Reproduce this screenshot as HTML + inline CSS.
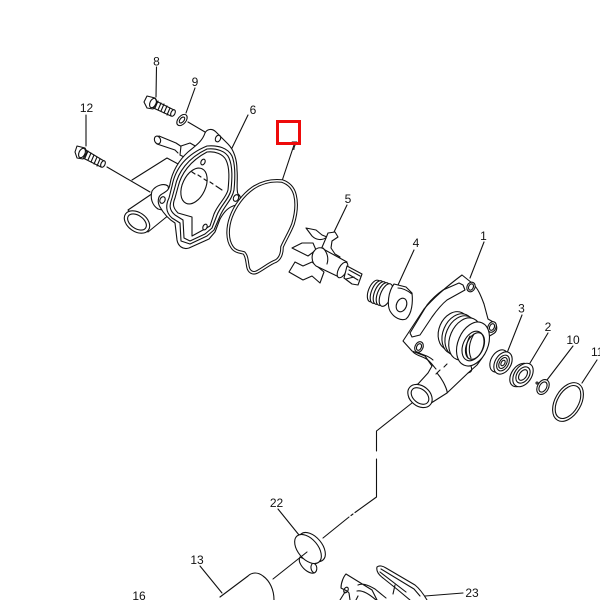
<!DOCTYPE html>
<html><head><meta charset="utf-8"><style>
html,body{margin:0;padding:0;background:#fff;width:600px;height:600px;overflow:hidden}
svg{display:block}
text{font-family:"Liberation Sans",sans-serif;font-size:12px;fill:#111}
path,line,ellipse,circle,polyline{fill:none;stroke:#111;stroke-width:1.1;stroke-linejoin:round;stroke-linecap:round}
.w{fill:#fff}
.d1{stroke-width:3.6}
.d2{stroke:#fff;stroke-width:1.5}
</style></head><body>
<svg width="600" height="600" viewBox="0 0 600 600">
<!-- leaders -->
<g>
<line x1="156.500" y1="67" x2="156" y2="97"/>
<line x1="195" y1="88" x2="186" y2="113"/>
<line x1="188" y1="122" x2="205" y2="132"/>
<line x1="86" y1="115" x2="86" y2="146"/>
<line x1="107" y1="167" x2="150" y2="192"/>
<polyline points="132,180 167,158 180,165"/>
<line x1="248" y1="115" x2="232" y2="148"/>
<line x1="294" y1="145" x2="282" y2="181"/>
<line x1="347" y1="205" x2="334" y2="232"/>
<line x1="414" y1="250" x2="398" y2="285"/>
<line x1="484" y1="242" x2="470" y2="278"/>
<line x1="522" y1="315" x2="507" y2="353"/>
<line x1="548" y1="333" x2="530" y2="363"/>
<line x1="573" y1="346" x2="547" y2="380"/>
<line x1="597" y1="360" x2="582" y2="383"/>
<polyline points="412,403 376.500,431 376.500,451"/>
<polyline points="376.500,459 376.500,497 355,512.500"/>
<line x1="353" y1="514" x2="351" y2="515.500"/>
<line x1="349" y1="517" x2="323" y2="538"/>
<line x1="278" y1="509" x2="299" y2="535"/>
<line x1="200" y1="566" x2="222" y2="593"/>
<line x1="463" y1="593" x2="425" y2="596"/>
</g>
<!-- bolt 8 -->
<g>
<path class="w" d="M152,99 L174,110 L171,116 L149,106 Z"/>
<path d="M158,101 l-3,7 M161,103 l-3,7 M164,104 l-3,7 M167,106 l-3,7 M170,108 l-3,7"/>
<ellipse class="w" cx="173" cy="113" rx="2" ry="3.500" transform="rotate(25 173 113)"/>
<path class="w" d="M147,96 L155,98 L157,102 L153,109 L147,108 L144,102 Z"/>
<ellipse cx="153" cy="103" rx="3" ry="5" transform="rotate(25 153 103)"/>
</g>
<!-- washer 9 -->
<ellipse cx="182" cy="120" rx="6.500" ry="4" transform="rotate(-50 182 120)"/>
<ellipse cx="182" cy="120" rx="3.500" ry="2" transform="rotate(-50 182 120)"/>
<!-- bolt 12 -->
<g>
<path class="w" d="M84,149 L104,161 L101,167 L81,157 Z"/>
<path d="M88,151 l-3,7 M91,153 l-3,7 M94,155 l-3,7 M97,157 l-3,7 M100,159 l-3,7"/>
<ellipse class="w" cx="103" cy="164" rx="2" ry="3.500" transform="rotate(25 103 164)"/>
<path class="w" d="M77,146 L85,148 L87,152 L83,159 L77,158 L75,152 Z"/>
<ellipse cx="82" cy="153" rx="3" ry="5" transform="rotate(25 82 153)"/>
</g>
<!-- stud -->
<path d="M159,136 L176,143 L182,147 M157,144 L175,150 L178,153"/>
<ellipse cx="157.500" cy="140" rx="3" ry="4" transform="rotate(-20 157.500 140)"/>
<path class="w" d="M181,146 L190,143 L197,147 L186,158 L180,155 Z"/>
<!-- pipe on cover -->
<path class="w" d="M128,210 L162,187 L175,210 L148,232 Z"/>
<path class="w" d="M152,191 C156,185 164,183 168,186 L174,213 L158,209 C152,205 150,198 152,191 Z"/>
<ellipse class="w" cx="137" cy="222" rx="14" ry="9.500" transform="rotate(35 137 222)"/>
<ellipse cx="137" cy="222" rx="10.500" ry="6.500" transform="rotate(35 137 222)"/>
<!-- cover 6 -->
<path class="w" d="M205,133 C207,129 212,128 216,132 L228,144 C234,150 237,160 237,170 C238,180 236,190 238,194 C242,197 241,203 236,205 C228,207 224,212 220,219 L215,232 L209,239 L189,248 C183,250 178,246 177,240 L175,223 C170,220 165,216 160,207 C157,202 158,196 162,194 C167,191 169,190 170,184 C172,172 179,160 188,152 C195,146 202,142 205,133 Z"/>
<path d="M207,146 C218,145 228,148 232,156 C236,166 235,180 234,190 C232,200 224,206 220,216 L214,230 L207,236 L190,244 L181,241 L180,223 L172,218 C165,212 166,204 169,198 L172,186 C175,170 185,155 207,146 Z"/>
<path d="M207,149 C216,148 226,151 229,158 C233,167 232,180 231,190 C229,199 221,205 217,215 L212,228 L205,234 L190,241 L184,238 L183,220 L175,215 C168,209 170,204 172,198 L175,187 C178,172 188,158 207,149 Z"/>
<path d="M207,152 C215,151 223,154 226,160 C230,168 229,180 228,190 C226,198 218,204 214,214 L210,226 L203,230 L192,236 L192,217 L178,213 C172,207 173,203 175,198 L178,187 C181,174 190,161 207,152 Z"/>
<ellipse class="w" cx="194" cy="186" rx="11.500" ry="19" transform="rotate(25 194 186)"/>
<path d="M192,172 l3,2 M198,175 l3,2 M204,179 l3,2 M210,182 l3,2 M216,186 l6,4" />
<ellipse cx="218" cy="138.500" rx="2.500" ry="3.500" transform="rotate(25 218 138.500)"/>
<ellipse cx="203" cy="162" rx="2" ry="3" transform="rotate(25 203 162)"/>
<ellipse class="w" cx="236" cy="198" rx="2.500" ry="3.500" transform="rotate(25 236 198)"/>
<ellipse class="w" cx="162.500" cy="200" rx="2.500" ry="3.500" transform="rotate(25 162.500 200)"/>
<ellipse class="w" cx="205" cy="227" rx="2" ry="3" transform="rotate(25 205 227)"/>
<!-- gasket 7 -->
<g>
<path class="d1" d="M282,181 C272,180 262,182 253,188 C243,195 235,206 231,217 C227,228 227,240 232,247 C235,252 241,252 244,253 C247,256 247,262 248,267 C249,272 253,274 257,272 C263,269 270,263 276,261 C281,258 282,252 282,247 C285,240 290,232 293,224 C296,214 297,203 295,195 C293,187 288,183 282,181 Z"/>
<path class="d2" d="M282,181 C272,180 262,182 253,188 C243,195 235,206 231,217 C227,228 227,240 232,247 C235,252 241,252 244,253 C247,256 247,262 248,267 C249,272 253,274 257,272 C263,269 270,263 276,261 C281,258 282,252 282,247 C285,240 290,232 293,224 C296,214 297,203 295,195 C293,187 288,183 282,181 Z"/>
</g>
<!-- impeller 5 -->
<g>
<path class="w" d="M306,228 L316,230 L322,235 L327,237 C322,241 316,240 312,236 Z"/>
<path class="w" d="M326,238 L328,233 L335,232 L338,237 L332,241 L331,248 L335,254 L340,257 L336,262 L320,252 Z"/>
<path class="w" d="M292,248 L302,243 L313,243 L316,250 L308,256 Z"/>
<path class="w" d="M295,262 L289,272 L303,280 L312,276 L320,283 L324,272 L312,262 L303,266 Z"/>
<path class="w" d="M315,250 C318,247 322,247 325,250 L347,262 L339,277 L316,266 C311,262 311,254 315,250 Z"/>
<path d="M323,248 C327,252 329,258 327,264"/>
<ellipse class="w" cx="342.500" cy="270" rx="4" ry="8.500" transform="rotate(28 342.500 270)"/>
<path class="w" d="M347,266 L362,274 L358,285 L352,284 L344,278 Z"/>
<path d="M349,270 L360,276 M348,274 L358,280 M346,279 L354,277"/>
</g>
<!-- seal 4 -->
<g>
<ellipse class="w" cx="374" cy="291" rx="5.500" ry="11.500" transform="rotate(22 374 291)"/>
<ellipse class="w" cx="377" cy="292" rx="5.500" ry="12" transform="rotate(22 377 292)"/>
<ellipse class="w" cx="380" cy="293" rx="5.500" ry="12" transform="rotate(22 380 293)"/>
<ellipse class="w" cx="383" cy="294" rx="5.500" ry="12" transform="rotate(22 383 294)"/>
<ellipse class="w" cx="386" cy="295" rx="5.500" ry="12" transform="rotate(22 386 295)"/>
<path class="w" d="M394,284 L406,287 L412,293 C413,302 412,314 406,319 C401,321 394,318 390,311 C387,305 388,292 394,284 Z"/>
<path d="M398,288 C403,288 408,291 412,294"/>
<ellipse cx="401.500" cy="305" rx="5" ry="7" transform="rotate(22 401.500 305)"/>
</g>
<!-- housing 1 -->
<g>
<path class="w" d="M462,275 L472,283 C478,288 481,296 484,304 L488,319 L495,323 C498,327 497,332 493,334 L486,338 L482,358 L477,365 L468,373 L447,393 L428,405 C420,408 412,404 409,398 C407,392 410,386 418,384 L428,373 L432,366 L425,356 L412,351 L403,341 L424,309 C436,295 450,284 462,275 Z"/>
<path d="M459,283 L443,290 C436,295 431,300 427,305 L410,333 L412,337 L420,335 L432,317 C437,310 442,304 447,300 L465,290 L463,285 Z"/>
<ellipse class="w" cx="471" cy="287" rx="4" ry="5" transform="rotate(25 471 287)"/>
<ellipse cx="471" cy="287" rx="2.300" ry="3.300" transform="rotate(25 471 287)"/>
<ellipse class="w" cx="492" cy="327" rx="4" ry="5.500" transform="rotate(25 492 327)"/>
<ellipse cx="492" cy="327" rx="2.300" ry="3.500" transform="rotate(25 492 327)"/>
<ellipse class="w" cx="419" cy="347" rx="4" ry="5.500" transform="rotate(25 419 347)"/>
<ellipse cx="419" cy="347" rx="2.300" ry="3.500" transform="rotate(25 419 347)"/>
<path d="M413,352 C418,357 425,356 430,362 C433,365 434,367 436,369 M417,352 C422,355 428,355 433,360"/>
<path d="M436,374 L440,370 M447,364 L444,367 M437,373 C444,381 448,392 447,393"/>
<path d="M471,366 C473,372 470,372 468,373"/>
<ellipse class="w" cx="454" cy="331" rx="15" ry="20" transform="rotate(23 454 331)"/>
<ellipse class="w" cx="458" cy="334" rx="15" ry="21" transform="rotate(23 458 334)"/>
<ellipse class="w" cx="461" cy="336" rx="15" ry="21" transform="rotate(23 461 336)"/>
<ellipse class="w" cx="465" cy="339" rx="15" ry="22" transform="rotate(23 465 339)"/>
<ellipse class="w" cx="473" cy="344" rx="15" ry="23" transform="rotate(23 473 344)"/>
<ellipse cx="473" cy="346" rx="10" ry="15.500" transform="rotate(23 473 346)"/>
<ellipse cx="475" cy="346" rx="8.500" ry="14" transform="rotate(23 475 346)"/>
<path d="M470,336 C466,343 465,352 468,358 M474,334 C469,342 468,351 471,358"/>
<ellipse class="w" cx="420" cy="396" rx="13.500" ry="10" transform="rotate(40 420 396)"/>
<ellipse cx="420" cy="396" rx="10" ry="6.800" transform="rotate(40 420 396)"/>
</g>
<!-- bearing 3 -->
<g>
<ellipse class="w" cx="499" cy="361" rx="8" ry="12" transform="rotate(30 499 361)"/>
<ellipse class="w" cx="503" cy="363" rx="8" ry="12" transform="rotate(30 503 363)"/>
<ellipse cx="503" cy="363" rx="5.500" ry="8.500" transform="rotate(30 503 363)"/>
<ellipse cx="503" cy="363" rx="3.500" ry="6" transform="rotate(30 503 363)"/>
<ellipse cx="503" cy="363" rx="1.800" ry="3" transform="rotate(30 503 363)"/>
</g>
<!-- seal 2 -->
<g>
<ellipse class="w" cx="520" cy="375" rx="8.500" ry="13" transform="rotate(35 520 375)"/>
<ellipse class="w" cx="523" cy="375" rx="8.500" ry="13" transform="rotate(35 523 375)"/>
<ellipse cx="523" cy="375" rx="6" ry="9" transform="rotate(35 523 375)"/>
<ellipse cx="523" cy="375" rx="3.500" ry="6" transform="rotate(35 523 375)"/>
</g>
<!-- circlip 10 -->
<ellipse cx="543" cy="387" rx="5.500" ry="8" transform="rotate(30 543 387)"/>
<ellipse cx="543" cy="387" rx="3.500" ry="5.500" transform="rotate(30 543 387)"/>
<circle cx="537" cy="383" r="1"/>
<!-- o-ring 11 -->
<ellipse cx="568" cy="402" rx="13" ry="21" transform="rotate(30 568 402)"/>
<ellipse cx="568" cy="402" rx="10.500" ry="18" transform="rotate(30 568 402)"/>
<!-- clamp 22 -->
<g>
<path class="w" d="M300,557 L315,564 C318,567 317,572 314,573 C310,574 304,570 301,565 C299,562 299,559 300,557 Z"/>
<path d="M312,564 C310,567 311,571 314,573"/>
<ellipse class="w" cx="312" cy="547" rx="10" ry="17" transform="rotate(-40 312 547)"/>
<ellipse class="w" cx="308" cy="549" rx="10" ry="17" transform="rotate(-40 308 549)"/>
<line x1="307" y1="552" x2="273" y2="579"/>
</g>
<!-- hose 13 -->
<path class="w" d="M220,597 L248,576 C252,572 258,572 263,576 C270,581 274,590 274,600 L222,600 Z" style="stroke:none"/>
<path d="M220,597 L248,576 C252,572 258,572 263,576 C270,581 274,590 274,600"/>
<!-- part 23 and bottom -->
<g>
<path d="M377,567 C379,565 383,566 386,568 L415,585 C420,589 424,595 427,600 M377,567 C376,571 379,575 383,578 L398,590 L410,600"/>
<path d="M381,569 L414,589 L420,596 M380,572 L406,592"/>
<line x1="395" y1="585" x2="393" y2="594"/>
<path d="M346,574 C344,576 341,582 341,588 C344,590 347,590 349,593 L350,600 M346,574 L359,582 L372,590 L377,600 M358,585 C363,583 368,585 375,589 L386,598 M357,591 C362,590 368,593 376,600"/>
<ellipse cx="346" cy="590" rx="2" ry="3" transform="rotate(30 346 590)"/>
<line x1="345" y1="592" x2="340" y2="600"/>
<line x1="358" y1="596" x2="356" y2="600"/>
</g>
<!-- labels -->
<text x="156.500" y="65.500" text-anchor="middle">8</text>
<text x="195" y="86" text-anchor="middle">9</text>
<text x="86.500" y="112" text-anchor="middle">12</text>
<text x="253" y="114" text-anchor="middle">6</text>
<text x="294.500" y="150" text-anchor="middle">7</text>
<text x="348" y="203" text-anchor="middle">5</text>
<text x="416" y="247" text-anchor="middle">4</text>
<text x="483.500" y="240" text-anchor="middle">1</text>
<text x="521.500" y="312.500" text-anchor="middle">3</text>
<text x="548" y="331" text-anchor="middle">2</text>
<text x="573" y="344" text-anchor="middle">10</text>
<text x="591" y="356">11</text>
<text x="276.500" y="507" text-anchor="middle">22</text>
<text x="197" y="564" text-anchor="middle">13</text>
<text x="139" y="600" text-anchor="middle">16</text>
<text x="472" y="597" text-anchor="middle">23</text>
<!-- red box -->
<rect x="277.500" y="121.500" width="22" height="22" style="fill:none;stroke:#ee0a0a;stroke-width:3"/>
</svg>
</body></html>
